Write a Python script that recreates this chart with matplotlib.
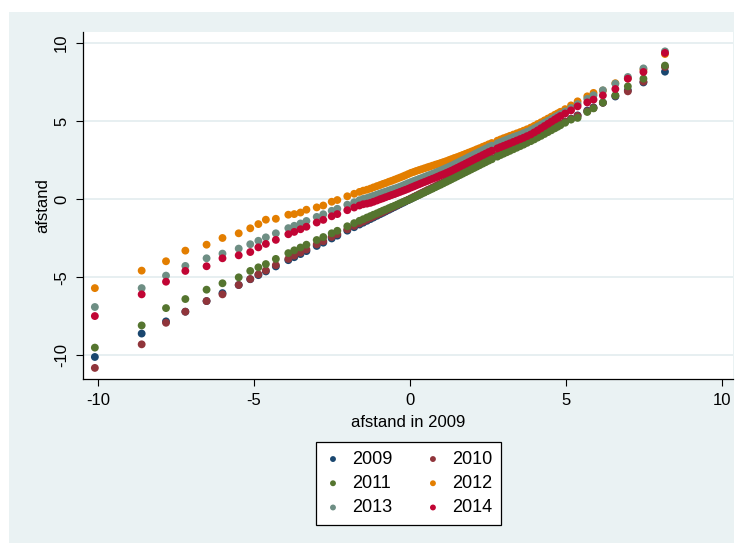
import matplotlib
matplotlib.use("Agg")
import matplotlib.pyplot as plt
from matplotlib.patches import Rectangle

plt.rcParams['font.family'] = ['Liberation Sans', 'DejaVu Sans']

# afstand in 2009 (x) -- also the 2009 series itself
x2009 = [-10.10, -8.60, -7.82, -7.20, -6.52, -6.01, -5.49, -5.12, -4.86, -4.62, -4.30, -3.90, -3.71, -3.51, -3.32, -2.99, -2.78, -2.51, -2.33, -2.01, -1.79,
         -1.62, -1.50, -1.38, -1.27, -1.17, -1.06, -0.96, -0.87, -0.78, -0.68, -0.59, -0.50, -0.41, -0.32, -0.23, -0.15, -0.06,
         0.03, 0.12, 0.20, 0.29, 0.37, 0.46, 0.55, 0.63, 0.72, 0.81, 0.89, 0.98,
         1.07, 1.16, 1.25, 1.33, 1.42, 1.51, 1.60, 1.69, 1.78, 1.87, 1.96, 2.05, 2.14, 2.23, 2.33, 2.42, 2.52, 2.62,
         2.80, 2.90, 3.00, 3.10, 3.20, 3.31, 3.42, 3.53, 3.64, 3.75, 3.87,
         3.98, 4.09, 4.20, 4.31, 4.42, 4.53, 4.64, 4.73, 4.82,
         4.97, 5.16, 5.37, 5.68, 5.88, 6.18, 6.58, 6.98, 7.48, 8.17]

y2010 = [-10.80, -9.29, -7.91, -7.20, -6.52, -6.09, -5.49, -5.11, -4.81, -4.56, -4.22, -3.82, -3.61, -3.42, -3.22, -2.89, -2.69, -2.41, -2.24, -1.93, -1.71,
         -1.54, -1.43, -1.31, -1.20, -1.11, -1.00, -0.90, -0.82, -0.73, -0.63, -0.54, -0.46, -0.37, -0.28, -0.19, -0.12, -0.03,
         0.06, 0.15, 0.23, 0.32, 0.40, 0.49, 0.58, 0.65, 0.74, 0.83, 0.91, 1.00,
         1.09, 1.18, 1.27, 1.35, 1.44, 1.53, 1.62, 1.71, 1.80, 1.89, 1.98, 2.07, 2.16, 2.25, 2.35, 2.44, 2.54, 2.64,
         2.82, 2.92, 3.01, 3.11, 3.21, 3.32, 3.43, 3.54, 3.65, 3.76, 3.87,
         3.98, 4.09, 4.20, 4.31, 4.42, 4.53, 4.64, 4.73, 4.82,
         4.97, 5.14, 5.34, 5.63, 5.84, 6.18, 6.63, 6.91, 7.53, 8.47]

y2011 = [-9.50, -8.08, -6.97, -6.39, -5.79, -5.38, -5.00, -4.59, -4.36, -4.15, -3.82, -3.45, -3.27, -3.09, -2.91, -2.61, -2.42, -2.18, -2.02, -1.73, -1.53,
         -1.38, -1.28, -1.17, -1.08, -0.99, -0.90, -0.81, -0.73, -0.66, -0.57, -0.49, -0.42, -0.34, -0.26, -0.19, -0.12, -0.05,
         0.03, 0.11, 0.19, 0.27, 0.35, 0.43, 0.52, 0.60, 0.68, 0.77, 0.85, 0.93,
         1.02, 1.11, 1.20, 1.28, 1.37, 1.46, 1.55, 1.64, 1.73, 1.82, 1.91, 2.00, 2.09, 2.18, 2.28, 2.37, 2.47, 2.56,
         2.73, 2.83, 2.92, 3.01, 3.10, 3.20, 3.30, 3.40, 3.50, 3.61, 3.72,
         3.83, 3.95, 4.06, 4.18, 4.30, 4.42, 4.54, 4.64, 4.74,
         4.90, 5.10, 5.21, 5.59, 5.82, 6.19, 6.65, 7.23, 7.72, 8.56]

y2012 = [-5.69, -4.57, -3.97, -3.29, -2.91, -2.48, -2.18, -1.86, -1.59, -1.31, -1.25, -0.99, -0.95, -0.85, -0.67, -0.52, -0.40, -0.16, -0.05, 0.19, 0.35,
         0.47, 0.55, 0.61, 0.68, 0.76, 0.84, 0.91, 0.98, 1.04, 1.12, 1.18, 1.25, 1.32, 1.39, 1.46, 1.53, 1.61,
         1.69, 1.75, 1.81, 1.87, 1.92, 1.98, 2.04, 2.09, 2.15, 2.21, 2.26, 2.32,
         2.38, 2.44, 2.51, 2.57, 2.64, 2.70, 2.77, 2.84, 2.91, 2.98, 3.05, 3.12, 3.20, 3.27, 3.36, 3.43, 3.52, 3.60,
         3.75, 3.83, 3.91, 3.98, 4.06, 4.14, 4.22, 4.30, 4.39, 4.48, 4.59,
         4.70, 4.82, 4.93, 5.05, 5.17, 5.29, 5.41, 5.50, 5.60,
         5.77, 6.01, 6.27, 6.59, 6.81, 6.96, 7.43, 7.74, 8.30, 9.30]

y2013 = [-6.90, -5.69, -4.89, -4.27, -3.78, -3.48, -3.16, -2.88, -2.66, -2.44, -2.18, -1.85, -1.70, -1.55, -1.39, -1.13, -0.96, -0.74, -0.61, -0.35, -0.19,
         -0.06, 0.02, 0.08, 0.15, 0.22, 0.30, 0.37, 0.43, 0.49, 0.56, 0.62, 0.68, 0.74, 0.81, 0.88, 0.95, 1.03,
         1.10, 1.17, 1.23, 1.30, 1.36, 1.43, 1.50, 1.56, 1.63, 1.70, 1.77, 1.84,
         1.92, 2.00, 2.08, 2.15, 2.24, 2.33, 2.42, 2.51, 2.60, 2.69, 2.78, 2.87, 2.96, 3.05, 3.15, 3.24, 3.34, 3.43,
         3.58, 3.66, 3.74, 3.82, 3.90, 3.98, 4.06, 4.14, 4.23, 4.32, 4.43,
         4.54, 4.66, 4.78, 4.90, 5.02, 5.14, 5.26, 5.36, 5.46,
         5.62, 5.84, 6.09, 6.43, 6.66, 6.98, 7.40, 7.83, 8.38, 9.47]

y2014 = [-7.48, -6.09, -5.28, -4.59, -4.29, -3.78, -3.59, -3.38, -3.08, -2.86, -2.60, -2.24, -2.09, -1.92, -1.76, -1.49, -1.32, -1.09, -0.95, -0.70, -0.53,
         -0.40, -0.32, -0.28, -0.23, -0.16, -0.08, 0.00, 0.06, 0.13, 0.20, 0.27, 0.33, 0.40, 0.47, 0.54, 0.60, 0.67,
         0.75, 0.82, 0.89, 0.96, 1.03, 1.10, 1.17, 1.24, 1.31, 1.38, 1.45, 1.53,
         1.60, 1.68, 1.76, 1.83, 1.92, 2.01, 2.10, 2.19, 2.28, 2.37, 2.46, 2.55, 2.64, 2.73, 2.83, 2.92, 3.02, 3.11,
         3.26, 3.34, 3.42, 3.50, 3.58, 3.67, 3.76, 3.85, 3.94, 4.04, 4.15,
         4.28, 4.41, 4.55, 4.69, 4.83, 4.97, 5.11, 5.22, 5.33,
         5.49, 5.69, 5.95, 6.20, 6.38, 6.65, 7.06, 7.72, 8.15, 9.37]

years = ["2009", "2010", "2011", "2012", "2013", "2014"]
series = [x2009, y2010, y2011, y2012, y2013, y2014]
colors = ["#1A476F", "#90353B", "#55752F", "#E37E00", "#6E8E84", "#C10534"]

xticks = [-10, -5, 0, 5, 10]
yticks = [-10, -5, 0, 5, 10]

W, H = 742, 543
fig = plt.figure(figsize=(W / 100, H / 100), dpi=100, facecolor="white")
bg = Rectangle((9 / W, 0), (734 - 9) / W, 1 - 12 / H, transform=fig.transFigure,
               facecolor="#EAF2F3", edgecolor="none", zorder=-10)
fig.add_artist(bg)

ax = fig.add_axes([83 / W, 1 - 379 / H, (733 - 83) / W, (379 - 32) / H], zorder=1)
ax.set_facecolor("white")

handles = []
for yr, ys, c in zip(years, series, colors):
    h = ax.scatter(x2009, ys, s=32, color=c, edgecolors="none", zorder=3, label=yr)
    handles.append(h)

ax.set_xlim(-10.48, 10.35)
ax.set_ylim(-11.51, 10.71)
ax.set_xticks(xticks)
ax.set_yticks(yticks)
ax.set_xticklabels([str(t) for t in xticks], fontsize=12)
ax.set_yticklabels([str(t) for t in yticks], fontsize=12, rotation=90, va="center")
ax.tick_params(axis="both", length=5, width=0.8, color="black", pad=5)
ax.grid(axis="y", color="#E3ECEF", linewidth=1.2, zorder=0)
ax.set_axisbelow(True)
for side in ["top", "right"]:
    ax.spines[side].set_visible(False)
for side in ["left", "bottom"]:
    ax.spines[side].set_color("black")
    ax.spines[side].set_linewidth(0.9)

ax.set_xlabel("afstand in 2009", fontsize=12, labelpad=5)
ax.set_ylabel("afstand", fontsize=12, labelpad=3)

order = [0, 2, 4, 1, 3, 5]
leg = fig.legend([handles[i] for i in order], [years[i] for i in order],
                 ncol=2, loc="center", bbox_to_anchor=(408.5 / W, 1 - 483.5 / H),
                 fontsize=13, frameon=True, fancybox=False, edgecolor="black",
                 framealpha=1, markerscale=0.75, handletextpad=0.6, columnspacing=1.8,
                 labelspacing=0.4, borderpad=0.5, handlelength=0.9)
leg.get_frame().set_linewidth(0.9)
leg.set_zorder(5)

fig.savefig("out.png", dpi=100, facecolor="white")
